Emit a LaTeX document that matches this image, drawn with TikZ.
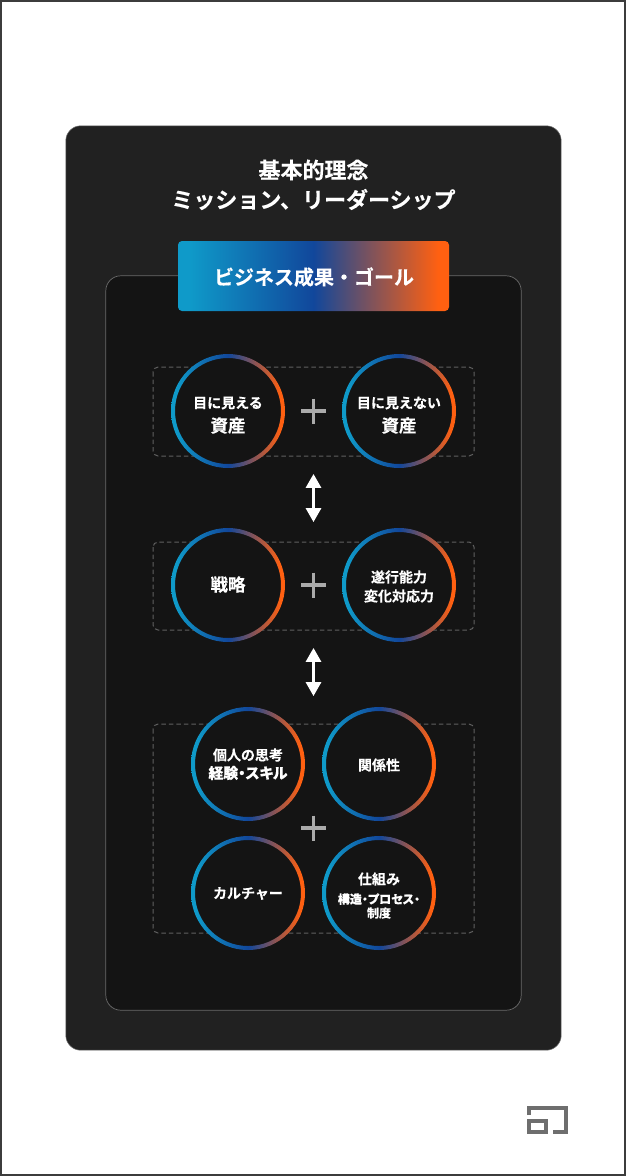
\documentclass[tikz,border=0pt]{standalone}
\usepackage{fontspec}
\setmainfont{Noto Sans CJK JP}[BoldFont={Noto Sans CJK JP Bold},BoldFeatures={FakeBold=0.25}]
\newfontfamily\cjkp{Noto Sans CJK JP Bold}[RawFeature=+palt,FakeBold=0.25]
\usetikzlibrary{arrows.meta}
\definecolor{gteal}{HTML}{0F9AC9}
\definecolor{gblue}{HTML}{11479B}
\definecolor{gorange}{HTML}{FF6011}
\definecolor{cardbg}{HTML}{212121}
\definecolor{innerbg}{HTML}{141414}
\definecolor{edgegray}{HTML}{6A6A6A}
\definecolor{dashgray}{HTML}{606060}
\definecolor{plusgray}{HTML}{ABABAB}
\definecolor{logogray}{HTML}{6E6E6E}
\definecolor{framegray}{HTML}{3C3C3C}
\pgfdeclarehorizontalshading{brandgrad}{100bp}{
  color(0bp)=(gteal); color(27bp)=(gteal); color(50bp)=(gblue); color(73bp)=(gorange); color(100bp)=(gorange)}
\tikzset{
  x=1pt,y=-1pt,
  groupbox/.style={draw=dashgray,line width=1pt,dash pattern=on 4.5pt off 3pt,rounded corners=5pt},
  label/.style={text=white,font=\bfseries,align=center,inner sep=0pt},
  plusbar/.style={draw=plusgray,line width=3.8pt},
  biarrow/.style={draw=white,line width=3pt,{Triangle[width=15pt,length=14pt]}-{Triangle[width=15pt,length=14pt]},shorten <=-.1pt,shorten >=-.1pt},
  logobar/.style={draw=logogray,line width=4.3pt,miter limit=10}
}
\newcommand{\ringat}[2]{%
  \fill[innerbg] (#1,#2) circle[radius=55];
  \shade[even odd rule,shading=brandgrad] (#1,#2) circle[radius=57] (#1,#2) circle[radius=53];
}
\newcommand{\plusat}[2]{%
  \draw[plusbar] (#1-12.5,#2) -- (#1+12.5,#2);
  \draw[plusbar] (#1,#2-12.5) -- (#1,#2+12.5);
}
\newcommand{\fs}[1]{\fontsize{#1}{#1}\selectfont}
\begin{document}
\begin{tikzpicture}
\useasboundingbox (0,0) rectangle (626,1176);
\fill[white] (0,0) rectangle (626,1176);
\draw[framegray,line width=2pt] (1,1) rectangle (625,1175);
% panels
\draw[fill=cardbg,draw=edgegray,line width=.5pt,rounded corners=15pt] (65.8,125.8) rectangle (561.2,1050.2);
\draw[fill=innerbg,draw=edgegray,line width=.7pt,rounded corners=15pt] (105.8,275.8) rectangle (521.2,1010.2);
% title
\node[label,font=\bfseries\fs{22}] (t1) at (313.5,170) {基本的理念};
\node[label,font=\bfseries\fs{22}] (t2) at (313.5,199.5) {ミッション、リーダーシップ};
% banner
\shade[rounded corners=4pt,shading=brandgrad] (178,241) rectangle (449,311);
\node[label,font=\bfseries\fs{20}] (banner) at (314,277) {ビジネス成果・ゴール};
% groups
\draw[groupbox] (153,367) rectangle (474,456);
\draw[groupbox] (153,542) rectangle (474,630);
\draw[groupbox] (153,724) rectangle (474,933);
% rings
\ringat{228}{411}\ringat{399}{411}
\ringat{228}{585}\ringat{399}{585}
\ringat{248}{764}\ringat{379}{764}
\ringat{248}{893}\ringat{379}{893}
% ring labels
\node[label] (a1) at (228,403) {\fs{14}\bfseries 目に見える};
\node[label] (a2) at (228,425.5) {\fs{17.5}\bfseries 資産};
\node[label] (b1) at (399,403) {\fs{14}\bfseries 目に見えない};
\node[label] (b2) at (399,425.5) {\fs{17.5}\bfseries 資産};
\node[label] (c) at (228,584.5) {\fs{17.5}\bfseries 戦略};
\node[label] (d1) at (399,577) {\fs{14}\bfseries 遂行能力};
\node[label] (d2) at (399,596) {\fs{14}\bfseries 変化対応力};
\node[label] (e1) at (248,755) {\fs{14}\bfseries 個人の思考};
\node[label] (e2) at (248,773) {\fs{14.8}\cjkp 経験・スキル};
\node[label] (f) at (379,765) {\fs{14}\bfseries 関係性};
\node[label] (g) at (248,893.5) {\fs{14}\bfseries カルチャー};
\node[label] (h1) at (379,879) {\fs{14}\bfseries 仕組み};
\node[label] (h2) at (379,899) {\fs{12}\cjkp 構造・プロセス・};
\node[label] (h3) at (379,913) {\fs{12}\bfseries 制度};
% plus signs
\plusat{313.5}{411}
\plusat{313.5}{585}
\plusat{313.5}{828}
% arrows
\coordinate (u1) at (313.5,474);
\coordinate (u2) at (313.5,522);
\coordinate (v1) at (313.5,648);
\coordinate (v2) at (313.5,696);
\draw[biarrow] (u1) -- (u2);
\draw[biarrow] (v1) -- (v2);
% logo
\draw[logobar] (529.2,1115) -- (529.2,1108.2) -- (565.8,1108.2) -- (565.8,1131.8) -- (553,1131.8);
\draw[logobar] (529.2,1121.2) rectangle (545.8,1131.8);
\end{tikzpicture}
\end{document}
